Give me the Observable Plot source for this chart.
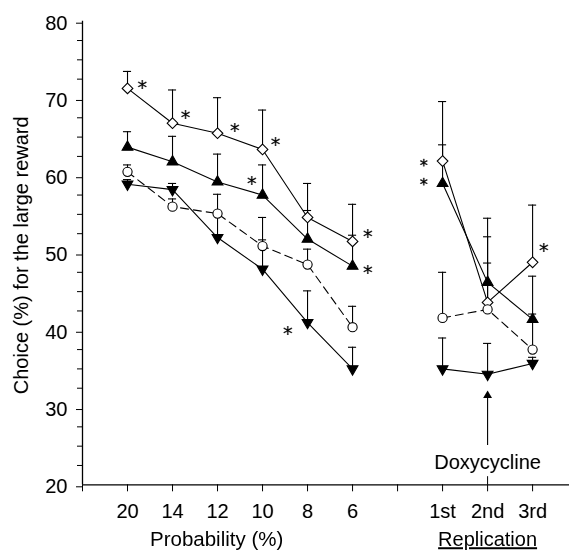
<!DOCTYPE html>
<html>
<head>
<meta charset="utf-8">
<script src="https://cdn.jsdelivr.net/npm/d3@7"></script>
<script src="https://cdn.jsdelivr.net/npm/@observablehq/plot@0.6"></script>
<style>
  html, body { margin: 0; padding: 0; background: white; }
  #chart svg { display: block; filter: grayscale(1); }
</style>
</head>
<body>
<div id="chart"></div>
<script>
// ---- data ----
const xPositions = [1, 2, 3, 4, 5, 6, 8, 9, 10];
const xTickPositions = [0, 1, 2, 3, 4, 5, 6, 7, 8, 9, 10];
const xTickLabels = ["", "20", "14", "12", "10", "8", "6", "", "1st", "2nd", "3rd"];
const yMajorTicks = [20, 30, 40, 50, 60, 70, 80];
const yMinorTicks = [22.5, 25, 27.5, 32.5, 35, 37.5, 42.5, 45, 47.5, 52.5, 55, 57.5, 62.5, 65, 67.5, 72.5, 75, 77.5];

const diamondMean = [71.3, 66.8, 65.5, 63.4, 54.6, 51.5, 61.9, 43.6, 48.8];
const diamondErr  = [73.5, 71.1, 70.1, 68.5, 59.0, 56.3, 69.6, 54.5, 56.2];
const triUpMean   = [63.7, 61.8, 59.2, 57.5, 51.8, 48.3, 59.0, 46.2, 41.4];
const triUpErr    = [65.7, 65.1, 62.8, 61.4, 55.5, 52.3, 64.0, 52.1, 47.0];
const circleMean  = [60.5, 56.0, 55.1, 50.9, 48.5, 40.4, 41.6, 42.7, 37.5];
const circleErr   = [61.4, 57.0, 57.6, 54.6, 50.5, 43.1, 47.5, 48.7, 42.1];
const triDownMean = [58.9, 58.2, 52.0, 47.9, 41.0, 35.0, 35.0, 34.3, 35.7];
const triDownErr  = [59.5, 59.0, 55.1, 51.7, 45.1, 37.8, 39.0, 38.3, 36.5];

const asteriskX = [1.33, 2.29, 3.38, 4.29, 3.76, 4.56, 6.34, 6.34, 7.58, 7.58, 10.25];
const asteriskY = [71.9, 68.1, 66.3, 64.5, 59.5, 40.1, 52.7, 48.0, 61.8, 59.3, 50.8];

// ---- build tables ----
const seriesDefs = [
  {name: "diamond", mean: diamondMean, err: diamondErr, symbol: "diamond2", fill: "white", r: 4.8, rotate: 0, dash: null},
  {name: "triUp", mean: triUpMean, err: triUpErr, symbol: "triangle", fill: "black", r: 4.0, rotate: 0, dash: null},
  {name: "circle", mean: circleMean, err: circleErr, symbol: "circle", fill: "white", r: 4.6, rotate: 0, dash: "8,5"},
  {name: "triDown", mean: triDownMean, err: triDownErr, symbol: "triangle", fill: "black", r: 4.0, rotate: 180, dash: null}
];
const rows = [];
for (const s of seriesDefs) {
  xPositions.forEach((x, i) => rows.push({series: s.name, x, mean: s.mean[i], err: s.err[i], seg: x < 7 ? 0 : 1}));
}
const tickLabel = new Map(xTickPositions.map((p, i) => [p, xTickLabels[i]]));

// asterisks: those stacked tightly in one column are drawn a little smaller
const asterisks = asteriskX.map((x, i) => ({x, y: asteriskY[i]}));
for (const a of asterisks) {
  a.tight = asterisks.some(b => b !== a && Math.abs(b.x - a.x) < 0.01 && Math.abs(b.y - a.y) < 3.5);
}

const FS = 20;
const astFont = "'DejaVu Sans', sans-serif";
const marks = [
  Plot.ruleY([20], {stroke: "black", strokeWidth: 1.3}),
  Plot.ruleX([0], {y1: 20, y2: 80, stroke: "black", strokeWidth: 1.3}),
  Plot.axisY({ticks: yMajorTicks, tickSize: 6, tickPadding: 9, label: null, fontSize: FS, dy: 2}),
  Plot.axisY({ticks: yMinorTicks, tickSize: 5, tickFormat: () => "", label: null}),
  Plot.axisX({ticks: xTickPositions, tickFormat: d => tickLabel.get(d), tickSize: 7, tickPadding: 12, label: null, fontSize: FS}),
  Plot.ruleX([9], {y1: 20, y2: 21.05, stroke: "black"}),
  Plot.ruleX(rows, {x: "x", y1: "mean", y2: "err", stroke: "black", strokeWidth: 1.1}),
  Plot.ruleY(rows, {y: "err", x1: d => d.x - 0.09, x2: d => d.x + 0.09, stroke: "black", strokeWidth: 1.1})
];
for (const s of seriesDefs) {
  const data = rows.filter(d => d.series === s.name);
  marks.push(Plot.line(data, {x: "x", y: "mean", z: "seg", stroke: "black", strokeWidth: 1.1, strokeDasharray: s.dash}));
}
for (const s of seriesDefs) {
  const data = rows.filter(d => d.series === s.name);
  marks.push(Plot.dot(data, {x: "x", y: "mean", symbol: () => s.symbol, fill: s.fill, stroke: "black", strokeWidth: 1.1, r: s.r, rotate: s.rotate}));
}
marks.push(
  Plot.text(asterisks.filter(d => !d.tight), {x: "x", y: "y", text: () => "*", fontSize: 19, fontFamily: astFont, dy: 4.3, fill: "black", stroke: "black", strokeWidth: 0.2}),
  Plot.text(asterisks.filter(d => d.tight), {x: "x", y: "y", text: () => "*", fontSize: 16, fontFamily: astFont, dy: 3.6, fill: "black", stroke: "black", strokeWidth: 0.35}),
  Plot.ruleX([9], {y1: 25.1, y2: 31.55, stroke: "black", strokeWidth: 1.1}),
  Plot.dot([9], {x: d => d, y: () => 31.55, symbol: "triangle", r: 3.3, fill: "black", stroke: "none"}),
  Plot.text(["Doxycycline"], {x: () => 9, y: () => 22.07, text: d => d, lineAnchor: "bottom", fontSize: FS}),
  Plot.text(["Probability (%)"], {x: () => 2.98, y: () => 12.05, text: d => d, lineAnchor: "bottom", fontSize: 20.5}),
  Plot.text(["Replication"], {x: () => 9, y: () => 12.05, text: d => d, lineAnchor: "bottom", fontSize: FS}),
  Plot.text(["Choice (%) for the large reward"], {frameAnchor: "left", y: () => 49.7, text: d => d, rotate: -90, textAnchor: "middle", lineAnchor: "bottom", dx: -54.5, fontSize: FS})
);

const chart = Plot.plot({
  width: 569,
  height: 550,
  marginLeft: 82,
  marginRight: 0,
  marginTop: 20.7,
  marginBottom: 65.7,
  x: {type: "linear", domain: [0, 10.82]},
  y: {type: "linear", domain: [20, 80]},
  style: {fontFamily: "'Liberation Sans', Arial, sans-serif", fontSize: "20px", background: "white", color: "black", overflow: "visible"},
  marks
});
document.getElementById("chart").appendChild(chart);
d3.select(chart).selectAll("text").filter(function() { return this.textContent === "Replication"; })
  .style("text-decoration", "underline");
</script>
</body>
</html>
